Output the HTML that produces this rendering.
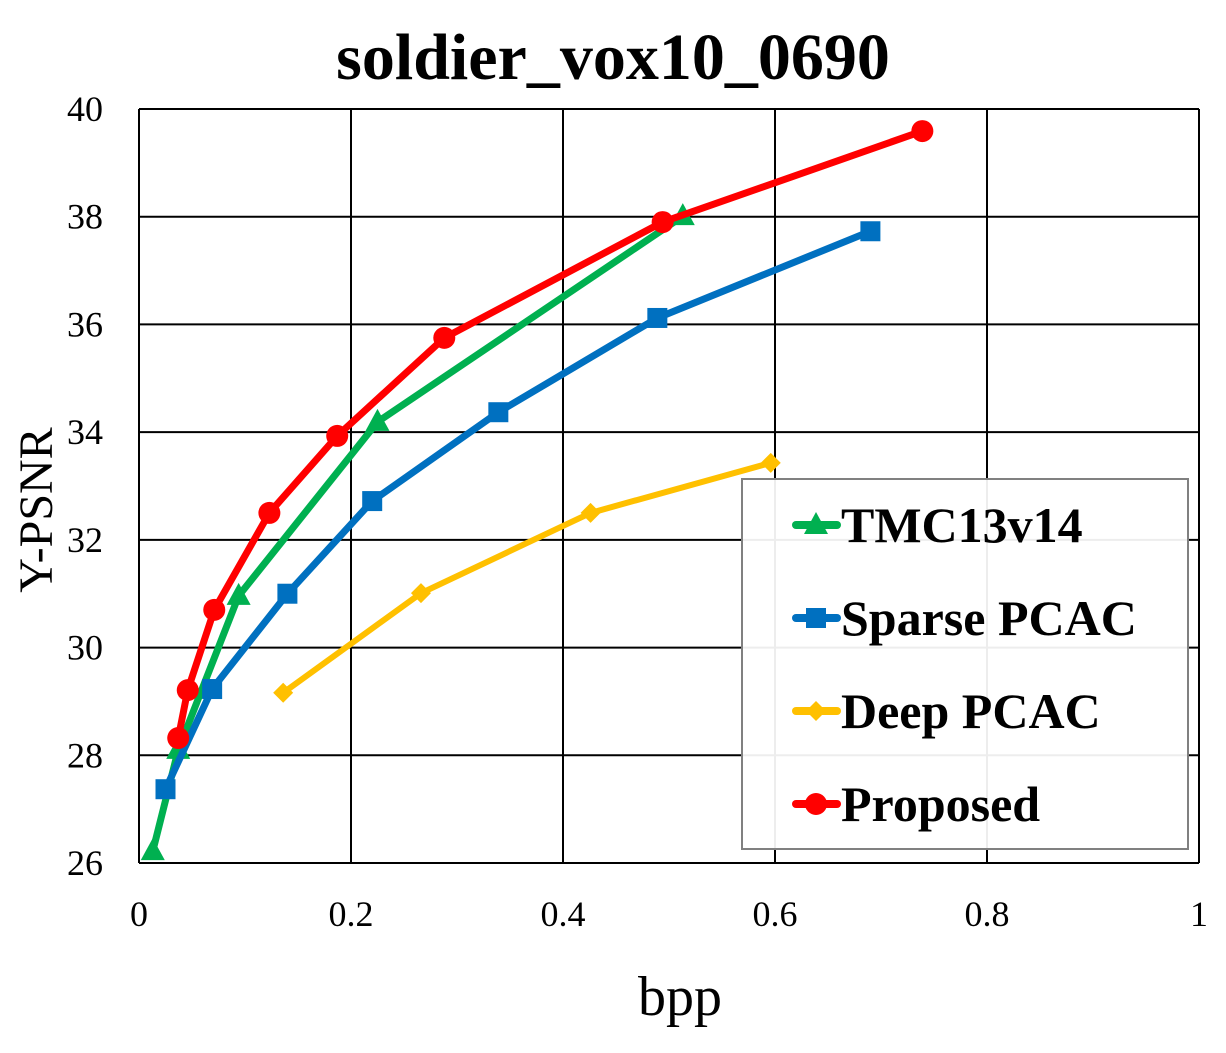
<!DOCTYPE html>
<html><head><meta charset="utf-8"><style>
body{margin:0;background:#fff;}
svg text{font-family:"Liberation Serif",serif;}
</style></head><body>
<svg id="chart" width="1226" height="1048" xmlns="http://www.w3.org/2000/svg">
<text x="613" y="79" text-anchor="middle" font-size="66" font-weight="bold">soldier_vox10_0690</text>
<g id="grid"></g><g id="series"></g>
<text x="680" y="1015" text-anchor="middle" font-size="56">bpp</text>
<text transform="translate(52,510) rotate(-90)" text-anchor="middle" font-size="48">Y-PSNR</text>
<g id="legend"></g>
</svg>
<script>
const xTicks=[0,0.2,0.4,0.6,0.8,1];
const xTickLabels=["0","0.2","0.4","0.6","0.8","1"];
const yTicks=[26,28,30,32,34,36,38,40];
const seriesNames=["TMC13v14","Sparse PCAC","Deep PCAC","Proposed"];
const tmcX=[0.013,0.037,0.094,0.225,0.513];
const tmcY=[26.22,28.1,30.96,34.19,38.01];
const sparseX=[0.025,0.069,0.14,0.22,0.339,0.489,0.69];
const sparseY=[27.37,29.23,31.0,32.72,34.37,36.12,37.73];
const deepX=[0.136,0.266,0.426,0.596];
const deepY=[29.16,31.01,32.5,33.43];
const propX=[0.037,0.046,0.071,0.123,0.187,0.288,0.494,0.739];
const propY=[28.32,29.21,30.7,32.5,33.93,35.75,37.9,39.59];
const NS="http://www.w3.org/2000/svg";
const L=139,R=1199,T=109,B=863;
const sx=v=>L+v*(R-L);
const sy=v=>B-(v-26)/14*(B-T);
function mk(tag,attrs,parent){const e=document.createElementNS(NS,tag);for(const k in attrs)e.setAttribute(k,attrs[k]);parent.appendChild(e);return e;}
const grid=document.getElementById('grid');
xTicks.forEach((t,i)=>{
 const l=mk('line',{x1:sx(t),x2:sx(t),y1:T,y2:B,stroke:'#000','stroke-width':2},grid);
 
 
 const tx=mk('text',{x:sx(t),y:926,'text-anchor':'middle','font-size':36},grid);
 tx.textContent=xTickLabels[i];
 
 
});
yTicks.forEach(t=>{
 const l=mk('line',{x1:L,x2:R,y1:sy(t),y2:sy(t),stroke:'#000','stroke-width':2},grid);
 
 
 const tx=mk('text',{x:103,y:sy(t)+12,'text-anchor':'end','font-size':36},grid);
 tx.textContent=String(t);
 
 
});
const colors=['#00b050','#0070c0','#ffc000','#ff0000'];
const markers=['tri','sq','dia','circ'];
function marker(type,x,y,c,p,s){
 s=s||1;let e;
 if(type==='tri')e=mk('polygon',{points:`${x},${y-13*s} ${x-12*s},${y+9*s} ${x+12*s},${y+9*s}`,fill:c},p);
 else if(type==='sq')e=mk('rect',{x:x-10*s,y:y-10*s,width:20*s,height:20*s,fill:c},p);
 else if(type==='dia')e=mk('polygon',{points:`${x},${y-10*s} ${x+10*s},${y} ${x},${y+10*s} ${x-10*s},${y}`,fill:c},p);
 else e=mk('circle',{cx:x,cy:y,r:11*s,fill:c},p);
 return e;
}
const sg=document.getElementById('series');
const data=[[tmcX,tmcY],[sparseX,sparseY],[deepX,deepY],[propX,propY]];
data.forEach((d,i)=>{
 const g=mk('g',{},sg);
 
 
 const pts=d[0].map((x,j)=>sx(x)+','+sy(d[1][j])).join(' ');
 const pl=mk('polyline',{points:pts,fill:'none',stroke:colors[i],'stroke-width':i===2?6:7,'stroke-linejoin':'round'},g);
 
 
 d[0].forEach((x,j)=>{
  const m=marker(markers[i],sx(x),sy(d[1][j]),colors[i],g,1);
  
  
 });
});
const lg=document.getElementById('legend');
const box=mk('rect',{x:742,y:479,width:446,height:370,fill:'#fff','fill-opacity':0.93,stroke:'#808080','stroke-width':2},lg);


seriesNames.forEach((n,i)=>{
 const y=525+i*93;
 const g=mk('g',{},lg);
 
 
 mk('line',{x1:796,x2:837,y1:y,y2:y,stroke:colors[i],'stroke-width':8,'stroke-linecap':'round'},g);
 marker(markers[i],816,y,colors[i],g,1);
 const t=mk('text',{x:841,y:y+17,'font-size':50,'font-weight':'bold'},g);
 t.textContent=n;
});
</script>
</body></html>
